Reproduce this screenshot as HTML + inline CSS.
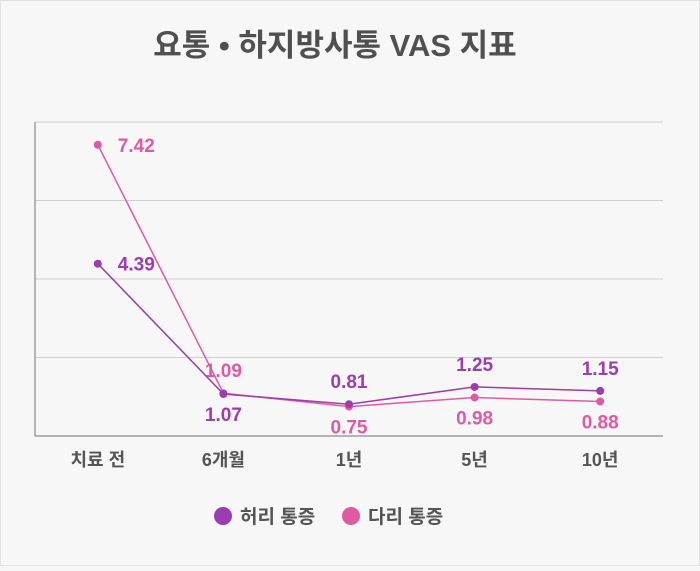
<!DOCTYPE html>
<html><head><meta charset="utf-8">
<style>
html,body{margin:0;padding:0;background:#f7f7f7;}
body{width:700px;height:566px;overflow:hidden;font-family:"Liberation Sans","Noto Sans CJK KR",sans-serif;}
svg text{font-family:"Liberation Sans","Noto Sans CJK KR",sans-serif;}
</style></head>
<body>
<svg id="chart" width="700" height="566">
<rect x="0.5" y="0.5" width="699" height="565" fill="#f7f7f7" stroke="#e2e2e2"/>
<text x="335" y="56" text-anchor="middle" font-size="31" font-weight="bold" fill="#505050">요통 • 하지방사통 VAS 지표</text>
<g id="grid"></g>
<g id="series"></g>
<g id="legend">
<circle cx="223" cy="516" r="9" fill="#9b3cb0"/>
<text x="240" y="523" font-size="19" font-weight="bold" fill="#555">허리 통증</text>
<circle cx="351" cy="516" r="9" fill="#e05aa2"/>
<text x="368" y="523" font-size="19" font-weight="bold" fill="#555">다리 통증</text>
</g>
</svg>
<script>
const categories = ["치료 전","6개월","1년","5년","10년"];
const waistValues = [4.39,1.07,0.81,1.25,1.15];
const legValues = [7.42,1.09,0.75,0.98,0.88];
const yTicks = [0,2,4,6,8];

const NS="http://www.w3.org/2000/svg";
const plotLeft=35,plotRight=663,plotTop=122,plotBottom=436,yMax=8;
const bw=(plotRight-plotLeft)/categories.length;
function xPos(i){return plotLeft+bw*(i+0.5);}
function yPos(v){return plotBottom-(v/yMax)*(plotBottom-plotTop);}
function mk(tag,attrs,parent){const e=document.createElementNS(NS,tag);for(const k in attrs)e.setAttribute(k,attrs[k]);parent.appendChild(e);return e;}

const grid=document.getElementById('grid');
yTicks.forEach(t=>{
  if(t===0)return;
  const l=mk('line',{x1:plotLeft,x2:plotRight,y1:yPos(t),y2:yPos(t),stroke:'#cfcfcf','stroke-width':1},grid);
  
  
});
const ya=mk('line',{x1:plotLeft,x2:plotLeft,y1:plotTop,y2:plotBottom,stroke:'#8a8a8a','stroke-width':1.2},grid);


const xa=mk('line',{x1:plotLeft,x2:plotRight,y1:plotBottom,y2:plotBottom,stroke:'#8a8a8a','stroke-width':1.2},grid);


categories.forEach((c,i)=>{
  const t=mk('text',{x:xPos(i),y:466,'text-anchor':'middle','font-size':18,'font-weight':'bold',fill:'#555'},grid);
  t.textContent=c;
  
  
});

const ser=document.getElementById('series');
function drawSeries(vals,color,name,labelPos){
  const pts=vals.map((v,i)=>xPos(i)+','+yPos(v)).join(' ');
  const pl=mk('polyline',{points:pts,fill:'none',stroke:color,'stroke-width':1.5},ser);
  
  
  vals.forEach((v,i)=>{
    const c=mk('circle',{cx:xPos(i),cy:yPos(v),r:4,fill:color},ser);
    
    
    const p=labelPos(i);
    const t=mk('text',{x:p==='right'?xPos(i)+20:xPos(i),y:p==='right'?yPos(v)+7:(p==='above'?yPos(v)-16:yPos(v)+27),'text-anchor':p==='right'?'start':'middle','font-size':19,'font-weight':'bold',fill:color},ser);
    t.textContent=v.toFixed(2);
    
    
  });
}
drawSeries(legValues,'#e05aa2','leg-pain',i=>i===0?'right':(i===1?'above':'below'));
drawSeries(waistValues,'#9b3cb0','waist-pain',i=>i===0?'right':(i===1?'below':'above'));
</script>
</body></html>
